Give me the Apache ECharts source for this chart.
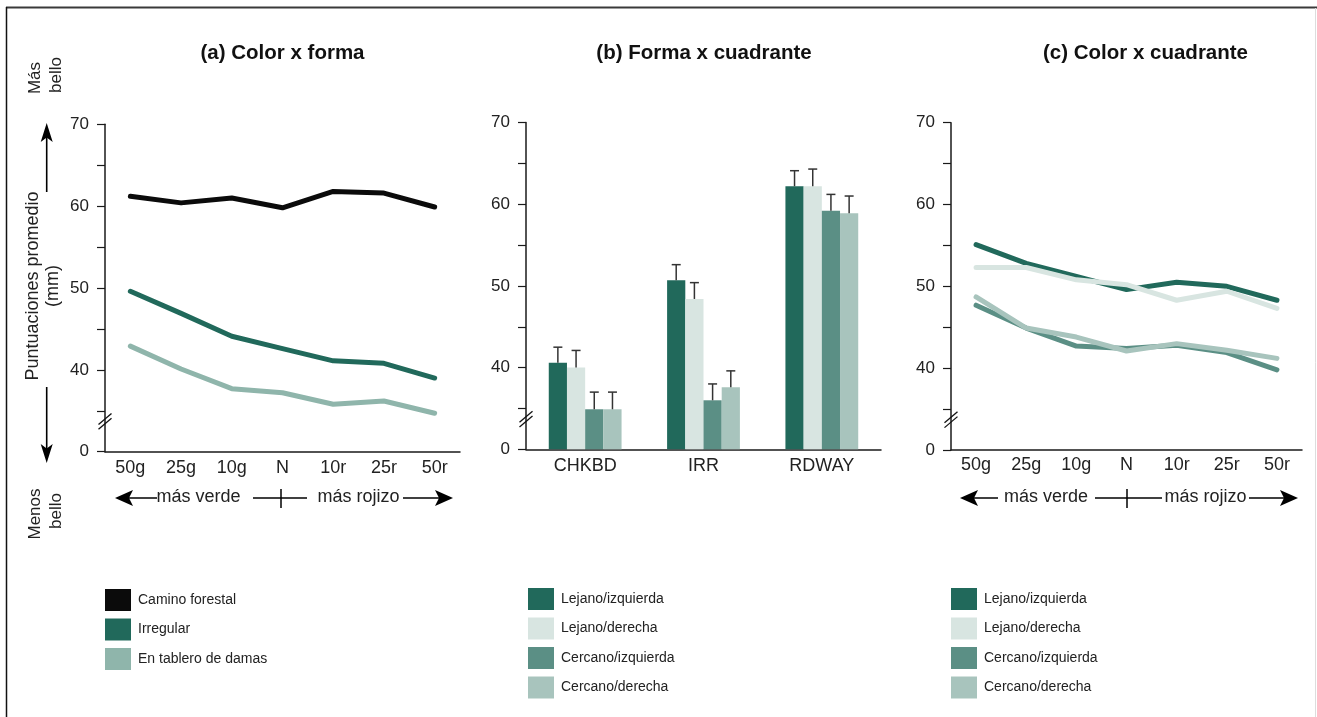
<!DOCTYPE html>
<html>
<head>
<meta charset="utf-8">
<script src="https://cdn.jsdelivr.net/npm/echarts@6/dist/echarts.min.js"></script>
<style>
  html, body { margin: 0; padding: 0; background: #ffffff; }
  #chart { width: 1317px; height: 717px; }
</style>
</head>
<body>
<div id="chart"></div>
<script>
// ---- Data ----
const colorCategories = ['50g', '25g', '10g', 'N', '10r', '25r', '50r'];
const shapeCategories = ['CHKBD', 'IRR', 'RDWAY'];

// y axis: 30 is drawn as "0" below the axis break
const yMin = 30;
const yMax = 70;
const yStep = 5;
const yLabeledTicks = [40, 50, 60, 70];
const yBreakLabel = '0';

// (a) Color x forma
const shapeNames = ['Camino forestal', 'Irregular', 'En tablero de damas'];
const caminoForestal = [61.2, 60.4, 61.0, 59.8, 61.8, 61.6, 59.9];
const irregular = [49.6, 46.9, 44.1, 42.6, 41.1, 40.8, 39.0];
const tableroDamas = [42.9, 40.1, 37.7, 37.2, 35.8, 36.2, 34.7];

// (b) Forma x cuadrante: means and upper ends of the error bars
const quadrantNames = ['Lejano/izquierda', 'Lejano/derecha', 'Cercano/izquierda', 'Cercano/derecha'];
const lejanoIzqBar = [40.6, 50.7, 62.2];
const lejanoDerBar = [40.0, 48.4, 62.2];
const cercanoIzqBar = [34.9, 36.0, 59.2];
const cercanoDerBar = [34.9, 37.6, 58.9];
const lejanoIzqErr = [42.5, 52.6, 64.1];
const lejanoDerErr = [42.1, 50.4, 64.3];
const cercanoIzqErr = [37.0, 38.0, 61.2];
const cercanoDerErr = [37.0, 39.6, 61.0];

// (c) Color x cuadrante
const lejanoIzqLine = [55.1, 52.8, 51.2, 49.6, 50.5, 50.0, 48.3];
const lejanoDerLine = [52.3, 52.3, 50.8, 50.2, 48.3, 49.4, 47.3];
const cercanoIzqLine = [47.7, 44.9, 42.7, 42.4, 42.8, 41.9, 39.8];
const cercanoDerLine = [48.7, 44.9, 43.8, 42.1, 43.0, 42.2, 41.2];

// ---- Styling ----
const FONT = '"Liberation Sans", Arial, Helvetica, sans-serif';
const INK = '#1a1a1a';
const TEXT = '#222222';
const shapeColors = ['#0b0b0b', '#21695b', '#8fb5ab'];
const quadrantColors = ['#21695b', '#d8e5e1', '#5b8f85', '#a8c4bd'];
const BAR_W = 18.2;
const BREAK_AT = 33.7;

const grids = [
  { left: 105, top: 124.3, width: 355, height: 327.4 },
  { left: 526, top: 122.5, width: 355, height: 326.8 },
  { left: 951, top: 122.7, width: 351, height: 327.3 }
];

function yAxisFor(gridIndex) {
  return {
    type: 'value', gridIndex, min: yMin, max: yMax, interval: yStep,
    axisLine: { show: true, lineStyle: { color: INK, width: 1.5 } },
    axisTick: { show: true, length: 8, lineStyle: { color: INK, width: 1.2 } },
    splitLine: { show: false },
    axisLabel: {
      margin: 16, fontSize: 17, color: TEXT, fontFamily: FONT,
      formatter: v => v === yMin ? yBreakLabel : (yLabeledTicks.includes(v) ? String(v) : '')
    }
  };
}

function xAxisFor(gridIndex, data, margin) {
  return {
    type: 'category', gridIndex, data, boundaryGap: true,
    axisLine: { show: true, lineStyle: { color: INK, width: 1.5 } },
    axisTick: { show: false },
    splitLine: { show: false },
    axisLabel: { interval: 0, margin, fontSize: 18, color: TEXT, fontFamily: FONT }
  };
}

function lineSeries(name, data, color, axisIndex) {
  return {
    type: 'line', name, data, color,
    xAxisIndex: axisIndex, yAxisIndex: axisIndex,
    symbol: 'none', showSymbol: false, smooth: false,
    lineStyle: { width: 5, color, cap: 'round', join: 'round' },
    silent: true
  };
}

const barValues = [lejanoIzqBar, lejanoDerBar, cercanoIzqBar, cercanoDerBar];
const barErrors = [lejanoIzqErr, lejanoDerErr, cercanoIzqErr, cercanoDerErr];

const errorData = [];
barValues.forEach((vals, i) => vals.forEach((v, j) => errorData.push([j, i, v, barErrors[i][j]])));

const series = [
  lineSeries(shapeNames[0], caminoForestal, shapeColors[0], 0),
  lineSeries(shapeNames[1], irregular, shapeColors[1], 0),
  lineSeries(shapeNames[2], tableroDamas, shapeColors[2], 0),
  ...barValues.map((vals, i) => ({
    type: 'bar', name: quadrantNames[i], data: vals, color: quadrantColors[i],
    xAxisIndex: 1, yAxisIndex: 1, barWidth: BAR_W, barGap: '0%',
    itemStyle: { color: quadrantColors[i] }, silent: true
  })),
  {
    type: 'custom', name: 'error', xAxisIndex: 1, yAxisIndex: 1,
    data: errorData, encode: { x: 0, y: 3 }, z: 5, silent: true,
    renderItem(params, api) {
      const j = api.value(0), i = api.value(1);
      const base = api.coord([j, api.value(2)]);
      const top = api.coord([j, api.value(3)]);
      const x = base[0] + (i - (barValues.length - 1) / 2) * BAR_W;
      const st = { stroke: '#333333', lineWidth: 1.5 };
      return {
        type: 'group',
        children: [
          { type: 'line', shape: { x1: x, y1: base[1], x2: x, y2: top[1] }, style: st },
          { type: 'line', shape: { x1: x - 4.5, y1: top[1], x2: x + 4.5, y2: top[1] }, style: st }
        ]
      };
    }
  },
  lineSeries(quadrantNames[0], lejanoIzqLine, quadrantColors[0], 2),
  lineSeries(quadrantNames[1], lejanoDerLine, quadrantColors[1], 2),
  lineSeries(quadrantNames[2], cercanoIzqLine, quadrantColors[2], 2),
  lineSeries(quadrantNames[3], cercanoDerLine, quadrantColors[3], 2)
];

function legendAt(left, top, names) {
  return {
    data: names, left, top, padding: 0, orient: 'vertical', icon: 'rect',
    itemWidth: 26, itemHeight: 22, itemGap: 7.5, selectedMode: false,
    itemStyle: { borderWidth: 0 },
    textStyle: { fontSize: 14, color: TEXT, fontFamily: FONT, padding: [0, 0, 0, 2] }
  };
}

const option = {
  animation: false,
  backgroundColor: '#ffffff',
  grid: grids.map(g => Object.assign({ containLabel: false, outerBoundsMode: 'none' }, g)),
  xAxis: [xAxisFor(0, colorCategories, 7), xAxisFor(1, shapeCategories, 8), xAxisFor(2, colorCategories, 6)],
  yAxis: [yAxisFor(0), yAxisFor(1), yAxisFor(2)],
  legend: [legendAt(105, 589, shapeNames), legendAt(528, 588, quadrantNames), legendAt(951, 588, quadrantNames)],
  series
};

const chart = echarts.init(document.getElementById('chart'), null, { renderer: 'canvas' });
chart.setOption(option);

// ---- Annotations ----
const G = [];
function text(str, x, y, size, opts = {}) {
  G.push({
    type: 'text', x, y, rotation: opts.rotation || 0, silent: true, z: 10,
    style: {
      text: str, x: 0, y: 0, align: 'center', verticalAlign: 'middle',
      font: (opts.bold ? 'bold ' : '') + size + 'px ' + FONT, fill: opts.fill || '#111111'
    }
  });
}
function seg(x1, y1, x2, y2, w, color) {
  G.push({ type: 'line', silent: true, z: 10, shape: { x1, y1, x2, y2 }, style: { stroke: color || '#000', lineWidth: w || 1.5 } });
}
function poly(points) {
  G.push({ type: 'polygon', silent: true, z: 10, shape: { points }, style: { fill: '#000' } });
}

// frame
seg(6, 7.5, 1317, 7.5, 2, '#3a3a3a');
seg(6.5, 7, 6.5, 717, 1.5, '#111111');
seg(1315.5, 8, 1315.5, 717, 1, '#dddddd');

// titles
text('(a) Color x forma', 282.5, 53, 20.5, { bold: true });
text('(b) Forma x cuadrante', 704, 53, 20.5, { bold: true });
text('(c) Color x cuadrante', 1145.5, 53, 20.5, { bold: true });

// vertical scale annotation on the left
const R = Math.PI / 2;
text('Más', 35.5, 78, 17, { rotation: R, fill: TEXT });
text('bello', 56.5, 75, 17, { rotation: R, fill: TEXT });
text('Puntuaciones promedio', 33.5, 286, 18, { rotation: R, fill: TEXT });
text('(mm)', 53.5, 286, 18, { rotation: R, fill: TEXT });
text('Menos', 35, 514, 17, { rotation: R, fill: TEXT });
text('bello', 56.5, 511, 17, { rotation: R, fill: TEXT });
const ax = 46.7;
seg(ax, 192, ax, 136, 1.6);
poly([[ax, 123], [ax - 6, 142], [ax, 137.5], [ax + 6, 142]]);
seg(ax, 387, ax, 450, 1.6);
poly([[ax, 463], [ax - 6, 444], [ax, 448.5], [ax + 6, 444]]);

// hue direction under the colour axes
function hueScale(y, l) {
  poly([[l.tipL, y], [l.tipL + 18, y - 8], [l.tipL + 14, y], [l.tipL + 18, y + 8]]);
  seg(l.tipL + 14, y, l.lineL, y, 1.5);
  text('más verde', l.txtL, y - 1, 18, { fill: TEXT });
  seg(l.midA, y, l.midB, y, 1.5);
  seg(l.tick, y - 9, l.tick, y + 10, 1.5);
  text('más rojizo', l.txtR, y - 1, 18, { fill: TEXT });
  seg(l.lineR, y, l.tipR - 14, y, 1.5);
  poly([[l.tipR, y], [l.tipR - 18, y - 8], [l.tipR - 14, y], [l.tipR - 18, y + 8]]);
}
hueScale(498, { tipL: 115, lineL: 157, txtL: 198.5, midA: 253, midB: 307, tick: 281, txtR: 358.5, lineR: 403, tipR: 453 });
hueScale(498, { tipL: 960, lineL: 998, txtL: 1046, midA: 1095, midB: 1162, tick: 1127, txtR: 1205.5, lineR: 1249, tipR: 1298 });

// axis break marks on each value axis
grids.forEach((g, k) => {
  const cy = chart.convertToPixel({ yAxisIndex: k }, BREAK_AT);
  const cx = g.left;
  [-2.4, 2.4].forEach(d => seg(cx - 6.5, cy + 5.5 + d, cx + 6.5, cy - 5.5 + d, 1.3, '#111'));
});

chart.setOption({ graphic: G });
</script>
</body>
</html>
